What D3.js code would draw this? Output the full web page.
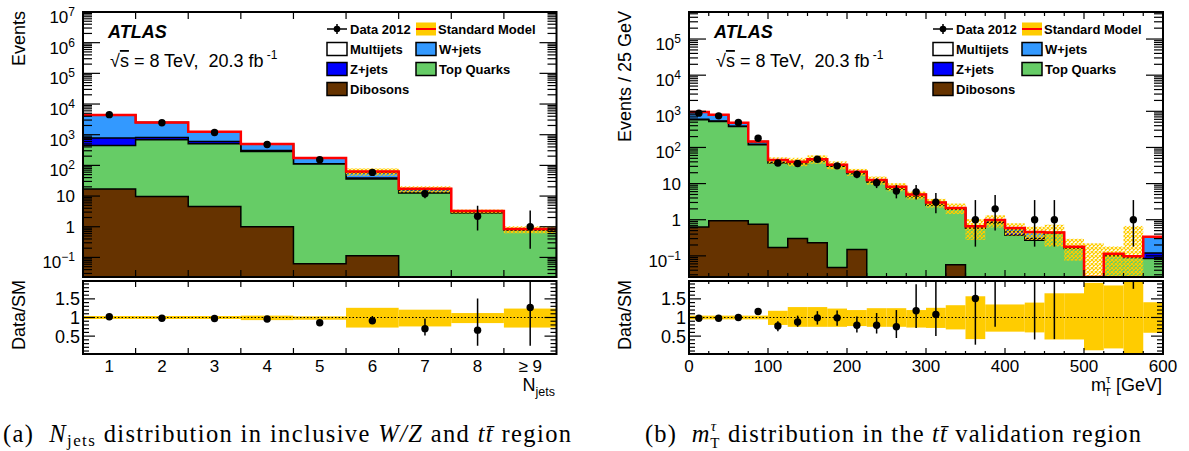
<!DOCTYPE html>
<html>
<head>
<meta charset="utf-8">
<script src="https://cdn.jsdelivr.net/npm/d3@7"></script>
<style>
  body { margin: 0; background: #fff; }
  svg { display: block; }
  text { font-family: "Liberation Sans", Arial, Helvetica, sans-serif; fill: #000; }
  .cap { font-family: "Liberation Serif", "Times New Roman", serif; }
</style>
</head>
<body>
<script>
// ---------- left: N_jets in inclusive W/Z and ttbar region ----------
const leftCats = ["1", "2", "3", "4", "5", "6", "7", "8", "\u2265 9"];
const leftDibosons = [17, 9.7, 4.6, 1.0, 0.062, 0.114, 0, 0, 0];
const leftTop = [428, 670, 500, 282, 110, 36, 12.5, 2.8, 0.78];
const leftZjets = [330, 130, 95, 20, 3, 3, 0.5, 0.05, 0.01];
const leftWjets = [3605, 1680, 630, 186, 59, 18, 3, 0.29, 0.04];
const leftMultijets = [20, 10, 10, 5, 3, 6, 1.3, 0.1, 0.01];
const leftData = [4500, 2450, 1180, 480, 152, 59, 11.9, 2.2, 1.0];
const leftDataLo = [4430, 2400, 1145, 458, 140, 51, 8.5, 0.76, 0.19];
const leftDataHi = [4570, 2500, 1215, 502, 164, 67, 16, 4.8, 3.4];
const leftBandLo = [0.96, 0.96, 0.96, 0.93, 0.94, 0.73, 0.76, 0.85, 0.73];
const leftBandHi = [1.04, 1.04, 1.04, 1.05, 1.03, 1.26, 1.21, 1.12, 1.24];
const leftRatio = [1.02, 0.98, 0.975, 0.96, 0.86, 0.91, 0.7, 0.66, 1.27];
const leftRatioLo = [1.0, 0.96, 0.955, 0.93, 0.82, 0.83, 0.52, 0.24, 0.24];
const leftRatioHi = [1.04, 1.0, 0.995, 0.99, 0.9, 1.04, 0.97, 1.51, 2.2];

// ---------- right: m_T^tau in ttbar validation region, 25 GeV bins ----------
const rightEdges = [0, 25, 50, 75, 100, 125, 150, 175, 200, 225, 250, 275, 300,
  325, 350, 375, 400, 425, 450, 475, 500, 525, 550, 575, 600];
const rightTicks = [0, 100, 200, 300, 400, 500, 600];
const rightDibosons = [0.63, 0.93, 0.93, 0.75, 0.17, 0.3, 0.23, 0.048, 0.15, 0, 0, 0,
  0, 0.057, 0, 0, 0, 0, 0, 0, 0, 0, 0, 0];
const rightTop = [580, 520, 380, 118, 37, 35, 42, 30, 19, 11, 7, 4.3,
  2.5, 1.9, 0.58, 0.81, 0.37, 0.27, 0.42, 0.16, 0, 0.1, 0.09, 0.085];
const rightZjets = [20, 15, 8, 3, 0.5, 0.5, 0.5, 0.4, 0.3, 0.2, 0.2, 0.1,
  0.1, 0.05, 0.02, 0.05, 0.1, 0.03, 0.01, 0.005, 0, 0.005, 0.003, 0.035];
const rightWjets = [340, 260, 90, 22, 6, 3.5, 3.5, 2, 1.5, 1, 0.8, 0.6,
  0.4, 0.1, 0.06, 0.12, 0.08, 0.15, 0.01, 0.015, 0, 0.01, 0.005, 0.22];
const rightMultijets = [10, 5, 2, 1.5, 1.3, 1, 1, 0.6, 0.3, 0.3, 0.2, 0,
  0, 0, 0, 0, 0.04, 0.01, 0, 0, 0, 0, 0, 0];
const rightData = [890, 750, 490, 180, 37, 36, 47, 31, 18, 10.5, 6.2, 5.9,
  3.05, 0, 1, 2, 0, 1, 1, 0, 0, 0, 1, 0];
const rightDataLo = [860, 722, 468, 167, 31, 30, 40, 26, 14, 7.5, 3.9, 3.6,
  1.5, 0, 0.18, 0.5, 0, 0.18, 0.18, 0, 0, 0, 0.18, 0];
const rightDataHi = [920, 778, 512, 194, 43, 42, 54, 37, 22.5, 14, 9.1, 9.1,
  5.5, 0, 3.5, 4.8, 0, 3.5, 3.5, 0, 0, 0, 3.5, 0];
const rightBandLo = [0.95, 0.95, 0.95, 0.95, 0.8, 0.75, 0.75, 0.75, 0.77, 0.75, 0.75, 0.73,
  0.72, 0.68, 0.42, 0.62, 0.62, 0.6, 0.41, 0.41, 0.12, 0.17, 0.02, 0.59];
const rightBandHi = [1.05, 1.05, 1.05, 1.05, 1.18, 1.28, 1.28, 1.24, 1.2, 1.25, 1.25, 1.2,
  1.26, 1.33, 1.57, 1.35, 1.35, 1.4, 1.65, 1.65, 1.93, 1.86, 1.98, 1.41];
const rightRatio = [0.98, 0.98, 1.0, 1.16, 0.77, 0.88, 0.99, 0.99, 0.79, 0.79, 0.75, 1.18,
  1.08, null, 1.51, 2.4, null, 2.4, 2.4, null, null, null, 2.4, null];
const rightRatioLo = [0.95, 0.94, 0.95, 1.08, 0.63, 0.75, 0.81, 0.78, 0.6, 0.57, 0.45, 0.72,
  0.5, null, 0.27, 0.75, null, 0.41, 0.42, null, null, null, 1.77, null];
const rightRatioHi = [1.01, 1.02, 1.05, 1.25, 0.9, 1.05, 1.17, 1.19, 1.03, 1.12, 1.2, 1.89,
  2.2, null, 2.5, 3, null, 3, 3, null, null, null, 3, null];

const stackKeys = ["dib", "top", "z", "w", "mj"];
const fills = { dib: "#663300", top: "#66cc66", z: "#0000ff", w: "#3399ff", mj: "#ffffff" };

// ---------- layout ----------
const W = 1189, H = 451;
const mainTop = 12, mainBottom = 277, ratioTop = 281, ratioBottom = 354;

const svg = d3.select("body").append("svg").attr("width", W).attr("height", H);
const defs = svg.append("defs");
defs.append("pattern").attr("id", "hatch")
  .attr("patternUnits", "userSpaceOnUse").attr("width", 4).attr("height", 4)
  .append("path").attr("d", "M0,0L4,4M4,0L0,4")
  .attr("stroke", "#ffcc00").attr("stroke-width", 1.2);

function makeRows(d, t, z, w, m) {
  return d.map((v, i) => ({ dib: v, top: t[i], z: z[i], w: w[i], mj: m[i] }));
}

function panel(cfg) {
  const id = cfg.id;
  const x = cfg.x;
  const x0 = x.range()[0], x1 = x.range()[1];
  const edges = cfg.edges;
  const n = edges.length - 1;
  const y = d3.scaleLog().domain(cfg.yDomain).range([mainBottom, mainTop]).clamp(true);
  const yv = v => y(Math.max(v, cfg.yDomain[0]));
  const r = d3.scaleLinear().domain([0.02, 1.98]).range([ratioBottom, ratioTop]).clamp(true);
  const g = svg.append("g");

  defs.append("clipPath").attr("id", id + "-main")
    .append("rect").attr("x", x0).attr("y", mainTop).attr("width", x1 - x0).attr("height", mainBottom - mainTop);
  defs.append("clipPath").attr("id", id + "-ratio")
    .append("rect").attr("x", x0).attr("y", ratioTop).attr("width", x1 - x0).attr("height", ratioBottom - ratioTop);

  // ---- stacked backgrounds
  const series = d3.stack().keys(stackKeys)(cfg.rows);
  const totals = series[series.length - 1].map(d => d[1]);
  const steps = vals => edges.map((e, i) => [e, vals[Math.min(i, n - 1)]]);
  const area = d3.area().curve(d3.curveStepAfter)
    .x(d => x(d[0])).y0(mainBottom).y1(d => yv(d[1]));
  const line = d3.line().curve(d3.curveStepAfter)
    .x(d => x(d[0])).y(d => yv(d[1]));

  const gm = g.append("g").attr("clip-path", `url(#${id}-main)`);
  series.slice().reverse().forEach(s => {
    gm.append("path")
      .attr("d", area(steps(s.map(d => d[1]))))
      .attr("fill", fills[s.key])
      .attr("stroke", "#000").attr("stroke-width", 1.5);
  });

  // SM uncertainty (hatched)
  gm.selectAll(".hatch").data(totals).join("rect")
    .filter(t => t > 0)
    .attr("x", (t, i) => x(edges[i]))
    .attr("width", (t, i) => x(edges[i + 1]) - x(edges[i]))
    .attr("y", (t, i) => yv(t * cfg.bandHi[i]))
    .attr("height", (t, i) => yv(t * cfg.bandLo[i]) - yv(t * cfg.bandHi[i]))
    .attr("fill", "url(#hatch)");

  // SM total
  gm.append("path").attr("d", line(steps(totals)))
    .attr("fill", "none").attr("stroke", "#ff0000").attr("stroke-width", 2.5);

  // data
  const centre = i => x((edges[i] + edges[i + 1]) / 2);
  cfg.data.forEach((v, i) => {
    if (!(v > 0)) return;
    gm.append("line").attr("x1", centre(i)).attr("x2", centre(i))
      .attr("y1", yv(cfg.dataLo[i])).attr("y2", yv(cfg.dataHi[i]))
      .attr("stroke", "#000").attr("stroke-width", 1.5);
    gm.append("circle").attr("cx", centre(i)).attr("cy", yv(v)).attr("r", 3.7).attr("fill", "#000");
  });

  // ---- ratio panel
  const gr = g.append("g").attr("clip-path", `url(#${id}-ratio)`);
  cfg.bandLo.forEach((lo, i) => {
    gr.append("rect").attr("x", x(edges[i])).attr("width", x(edges[i + 1]) - x(edges[i]))
      .attr("y", r(cfg.bandHi[i])).attr("height", r(lo) - r(cfg.bandHi[i]))
      .attr("fill", "#ffcc00");
  });
  gr.append("line").attr("x1", x0).attr("x2", x1).attr("y1", r(1)).attr("y2", r(1))
    .attr("stroke", "#000").attr("stroke-width", 1).attr("stroke-dasharray", "1.5,2");
  cfg.ratio.forEach((v, i) => {
    if (v === null) return;
    gr.append("line").attr("x1", centre(i)).attr("x2", centre(i))
      .attr("y1", r(cfg.ratioLo[i])).attr("y2", r(cfg.ratioHi[i]))
      .attr("stroke", "#000").attr("stroke-width", 1.5);
    if (v < 1.98) gr.append("circle").attr("cx", centre(i)).attr("cy", r(v)).attr("r", 3.7).attr("fill", "#000");
  });

  // ---- axes / ticks
  const ax = g.append("g").attr("stroke", "#000").attr("stroke-width", 1.2);
  // log y ticks, both sides
  y.ticks().forEach(v => {
    const e = Math.log10(v);
    const major = Math.abs(e - Math.round(e)) < 1e-6;
    const len = major ? 17 : 9;
    const yy = y(v);
    ax.append("line").attr("x1", x0).attr("x2", x0 + len).attr("y1", yy).attr("y2", yy);
    ax.append("line").attr("x1", x1).attr("x2", x1 - len).attr("y1", yy).attr("y2", yy);
    if (major) {
      const p = Math.round(e);
      const t = g.append("text").attr("x", x0 - 8).attr("text-anchor", "end").attr("font-size", 17);
      if (p === 0 || p === 1) {
        t.attr("y", yy + 6).text(p === 0 ? "1" : "10");
      } else {
        t.attr("y", yy + 11);
        t.append("tspan").text("10");
        t.append("tspan").attr("font-size", 12).attr("dy", -7).text(String(p).replace("-", "\u2212"));
      }
    }
  });
  // ratio y ticks
  d3.range(0.1, 1.95, 0.1).forEach(v => {
    const major = Math.abs(v * 2 - Math.round(v * 2)) < 1e-6;
    const len = major ? 12 : 6;
    const yy = r(v);
    ax.append("line").attr("x1", x0).attr("x2", x0 + len).attr("y1", yy).attr("y2", yy);
    ax.append("line").attr("x1", x1).attr("x2", x1 - len).attr("y1", yy).attr("y2", yy);
  });
  [0.5, 1, 1.5].forEach(v => {
    g.append("text").attr("x", x0 - 3).attr("y", r(v) + 6.5).attr("text-anchor", "end")
      .attr("font-size", 18).text(String(v));
  });
  // x ticks
  cfg.xTicks.forEach(tk => {
    const xx = x(tk.v);
    const lm = tk.major ? 7 : 4, lr = tk.major ? 6 : 3;
    ax.append("line").attr("x1", xx).attr("x2", xx).attr("y1", mainTop).attr("y2", mainTop + lm);
    ax.append("line").attr("x1", xx).attr("x2", xx).attr("y1", mainBottom).attr("y2", mainBottom - lm);
    ax.append("line").attr("x1", xx).attr("x2", xx).attr("y1", ratioTop).attr("y2", ratioTop + lr);
    ax.append("line").attr("x1", xx).attr("x2", xx).attr("y1", ratioBottom).attr("y2", ratioBottom - lr);
  });
  cfg.xLabels.forEach(lb => {
    g.append("text").attr("x", x(lb.v)).attr("y", 372).attr("text-anchor", "middle")
      .attr("font-size", 17).text(lb.t);
  });

  // frames
  g.append("rect").attr("x", x0).attr("y", mainTop).attr("width", x1 - x0).attr("height", mainBottom - mainTop)
    .attr("fill", "none").attr("stroke", "#000").attr("stroke-width", 2);
  g.append("rect").attr("x", x0).attr("y", ratioTop).attr("width", x1 - x0).attr("height", ratioBottom - ratioTop)
    .attr("fill", "none").attr("stroke", "#000").attr("stroke-width", 2);

  // ---- texts
  g.append("text").attr("transform", `translate(${cfg.yLabelX},${mainTop - 1}) rotate(-90)`)
    .attr("text-anchor", "end").attr("font-size", 18).text(cfg.yLabel);
  g.append("text").attr("transform", `translate(${cfg.yLabelX},315) rotate(-90)`)
    .attr("text-anchor", "middle").attr("font-size", 18).text("Data/SM");

  g.append("text").attr("x", x0 + 25).attr("y", 38).attr("font-size", 18)
    .attr("font-weight", "bold").attr("font-style", "italic").text("ATLAS");
  const en = g.append("text").attr("x", x0 + 27).attr("y", 67).attr("font-size", 18);
  en.append("tspan").text("\u221a");
  en.append("tspan").style("text-decoration", "overline").text("s");
  en.append("tspan").text(" = 8 TeV,\u00a0\u00a020.3 fb");
  en.append("tspan").attr("font-size", 12).attr("dy", -8).text("\u00a0-1");

  // legend
  const lg = g.append("g").attr("font-weight", "bold").attr("font-size", 13);
  const c1 = x0 + 244, c2 = x0 + 333, rows = [29, 49, 69, 89];
  lg.append("line").attr("x1", c1).attr("x2", c1 + 20).attr("y1", rows[0]).attr("y2", rows[0])
    .attr("stroke", "#000").attr("stroke-width", 1.5);
  lg.append("line").attr("x1", c1 + 10).attr("x2", c1 + 10).attr("y1", rows[0] - 5).attr("y2", rows[0] + 5)
    .attr("stroke", "#000").attr("stroke-width", 1.5);
  lg.append("circle").attr("cx", c1 + 10).attr("cy", rows[0]).attr("r", 3.3).attr("fill", "#000");
  lg.append("rect").attr("x", c2).attr("y", rows[0] - 6.5).attr("width", 20).attr("height", 13).attr("fill", "#ffcc00");
  lg.append("line").attr("x1", c2).attr("x2", c2 + 20).attr("y1", rows[0]).attr("y2", rows[0])
    .attr("stroke", "#ff0000").attr("stroke-width", 2);
  const boxes = [
    { cx: c1, row: 1, key: "mj", t: "Multijets" },
    { cx: c1, row: 2, key: "z", t: "Z+jets" },
    { cx: c1, row: 3, key: "dib", t: "Dibosons" },
    { cx: c2, row: 1, key: "w", t: "W+jets" },
    { cx: c2, row: 2, key: "top", t: "Top Quarks" },
  ];
  boxes.forEach(b => {
    lg.append("rect").attr("x", b.cx).attr("y", rows[b.row] - 6.5).attr("width", 20).attr("height", 13)
      .attr("fill", fills[b.key]).attr("stroke", "#000").attr("stroke-width", 1.5);
    lg.append("text").attr("x", b.cx + 23).attr("y", rows[b.row] + 5).text(b.t);
  });
  lg.append("text").attr("x", c1 + 23).attr("y", rows[0] + 5).text("Data 2012");
  lg.append("text").attr("x", c2 + 22).attr("y", rows[0] + 5).text("Standard Model");

  return g;
}

// left panel
const leftEdges = d3.range(0.5, 10, 1);
const xL = d3.scaleLinear().domain([0.5, 9.5]).range([83, 556.5]);
const gL = panel({
  id: "L", x: xL, edges: leftEdges, yDomain: [0.023, 1e7],
  rows: makeRows(leftDibosons, leftTop, leftZjets, leftWjets, leftMultijets),
  data: leftData, dataLo: leftDataLo, dataHi: leftDataHi,
  bandLo: leftBandLo, bandHi: leftBandHi,
  ratio: leftRatio, ratioLo: leftRatioLo, ratioHi: leftRatioHi,
  xTicks: leftEdges.slice(1, -1).map(v => ({ v, major: true })),
  xLabels: leftCats.map((t, i) => ({ v: i + 1, t })),
  yLabel: "Events", yLabelX: 25,
});
const nj = gL.append("text").attr("x", 555).attr("y", 391).attr("text-anchor", "end").attr("font-size", 18);
nj.append("tspan").text("N");
nj.append("tspan").attr("font-size", 12.5).attr("dy", 5).text("jets");

// right panel
const xR = d3.scaleLinear().domain([0, 600]).range([689, 1163]);
const gR = panel({
  id: "R", x: xR, edges: rightEdges, yDomain: [0.026, 5.6e5],
  rows: makeRows(rightDibosons, rightTop, rightZjets, rightWjets, rightMultijets),
  data: rightData, dataLo: rightDataLo, dataHi: rightDataHi,
  bandLo: rightBandLo, bandHi: rightBandHi,
  ratio: rightRatio, ratioLo: rightRatioLo, ratioHi: rightRatioHi,
  xTicks: rightEdges.map(v => ({ v, major: v % 100 === 0 })),
  xLabels: rightTicks.map(v => ({ v, t: String(v) })),
  yLabel: "Events / 25 GeV", yLabelX: 631,
});
const mt = gR.append("text").attr("x", 1162).attr("y", 391).attr("text-anchor", "end").attr("font-size", 18);
mt.append("tspan").text("m");
mt.append("tspan").attr("font-size", 11).attr("dy", -8).text("\u03c4");
mt.append("tspan").attr("font-size", 11).attr("dx", -6).attr("dy", 13).text("T");
mt.append("tspan").attr("dy", -5).text(" [GeV]");

// captions
const capA = svg.append("text").attr("class", "cap").attr("x", 3).attr("y", 442)
  .attr("font-size", 24.5).attr("textLength", 568).attr("lengthAdjust", "spacing");
capA.append("tspan").text("(a)\u00a0 ");
capA.append("tspan").attr("font-style", "italic").text("N");
capA.append("tspan").attr("font-size", 17).attr("dy", 4).text("jets");
capA.append("tspan").attr("dy", -4).text(" distribution in inclusive ");
capA.append("tspan").attr("font-style", "italic").text("W/Z");
capA.append("tspan").text(" and ");
capA.append("tspan").attr("font-style", "italic").text("tt\u0304");
capA.append("tspan").text(" region");

const capB = svg.append("text").attr("class", "cap").attr("x", 645).attr("y", 442)
  .attr("font-size", 24.5).attr("textLength", 496).attr("lengthAdjust", "spacing");
capB.append("tspan").text("(b)\u00a0 ");
capB.append("tspan").attr("font-style", "italic").text("m");
capB.append("tspan").attr("font-style", "italic").attr("font-size", 15).attr("dy", -11).text("\u03c4");
capB.append("tspan").attr("font-size", 15).attr("dx", -7).attr("dy", 17).text("T");
capB.append("tspan").attr("dy", -6).text(" distribution in the ");
capB.append("tspan").attr("font-style", "italic").text("tt\u0304");
capB.append("tspan").text(" validation region");
</script>
</body>
</html>
